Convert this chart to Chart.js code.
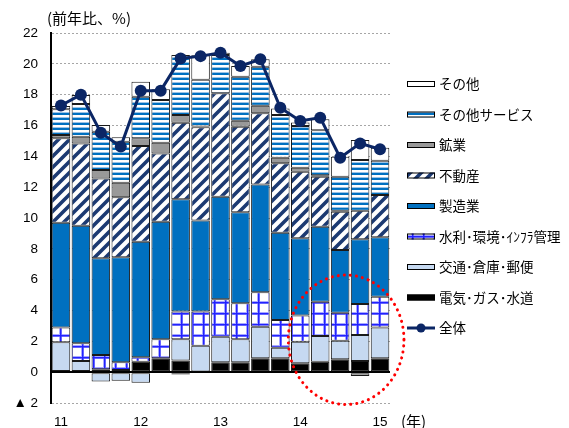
<!DOCTYPE html>
<html>
<head>
<meta charset="utf-8">
<script src="https://cdn.jsdelivr.net/npm/chart.js@4"></script>
<style>
  html, body { margin: 0; padding: 0; background: #fff; }
  #wrap { width: 569px; height: 428px; }
</style>
</head>
<body>
<div id="wrap"><canvas id="chart" width="569" height="428"></canvas></div>
<script>
// quarters 2011Q1 .. 2015Q1, only the year is labelled
const quarters = ['11', '', '', '', '12', '', '', '', '13', '', '', '', '14', '', '', '', '15'];

const elec      = [0.08, 0.08, 0.19, 0.14, 0.68, 0.9, 0.75, 0.05, 0.64, 0.64, 0.9, 0.9, 0.58, 0.68, 0.84, 0.73, 0.9];
const transport = [1.86, 0.65, -0.61, -0.55, -0.68, 0, 1.38, 1.67, 1.66, 1.49, 2.05, 0.69, 1.4, 1.67, 1.2, 1.68, 1.99];
const water     = [0.95, 1.14, 0.93, 0.5, 0.29, 1.23, 1.8, 2.21, 2.43, 2.34, 2.23, 1.8, 1.69, 2.22, 1.82, 2.01, 2.01];
const manuf     = [6.81, 7.63, 6.27, 6.81, 7.49, 7.63, 7.28, 5.9, 6.65, 5.9, 7.0, 5.66, 5.01, 4.87, 4.06, 4.2, 3.85];
const realty    = [5.47, 5.34, 5.18, 3.89, 6.21, 4.43, 4.97, 6.05, 6.71, 5.55, 4.61, 4.5, 4.32, 3.24, 2.49, 1.85, 2.74];
const mining    = [0.21, 0.43, 0.54, 0.95, 0.5, 0.69, 0.5, 0.05, 0, 0.39, 0.49, 0.36, 0.26, 0.1, 0.06, -0.25, 0];
const services  = [1.67, 2.13, 2.49, 2.66, 2.7, 2.77, 3.89, 3.03, 2.48, 2.85, 2.53, 2.77, 2.71, 2.92, 2.21, 3.29, 2.23];
const other     = [0.21, 0.58, 0.43, 0.28, 0.97, 0.7, -0.15, 1.6, 0.15, 0.7, 0.48, 0.42, 0.23, 0.7, 1.29, 1.3, 0.84];
const total     = [17.3, 18.0, 15.53, 14.63, 18.26, 18.26, 20.35, 20.5, 20.72, 19.86, 20.29, 17.15, 16.29, 16.51, 13.91, 14.84, 14.46];

const NAVY = '#0b2665';
const BLUE = '#0070c0';

function makePattern(w, h, paint) {
  const c = document.createElement('canvas');
  c.width = w; c.height = h;
  const g = c.getContext('2d');
  g.fillStyle = '#fff';
  g.fillRect(0, 0, w, h);
  paint(g);
  return document.getElementById('chart').getContext('2d').createPattern(c, 'repeat');
}

// horizontal blue stripes
const stripes = makePattern(8, 5, g => {
  g.fillStyle = '#9cc3e6'; g.fillRect(0, 2, 8, 1);
  g.fillStyle = BLUE; g.fillRect(0, 3, 8, 2);
});
// navy diagonal hatch
const hatch = makePattern(11, 11, g => {
  g.strokeStyle = '#1c3a72';
  g.lineWidth = 3.6;
  g.beginPath();
  g.moveTo(-1, 12); g.lineTo(12, -1);
  g.moveTo(-6, 6); g.lineTo(6, -6);
  g.moveTo(5, 17); g.lineTo(17, 5);
  g.stroke();
});
// blue grid
const blueGrid = makePattern(11, 11, g => {
  g.fillStyle = '#a8a8ff';
  g.fillRect(4, 0, 3, 11);
  g.fillRect(0, 4, 11, 3);
  g.fillStyle = '#2222ff';
  g.fillRect(5, 0, 1.5, 11);
  g.fillRect(0, 5, 11, 1.5);
});

function barSet(label, data, bg) {
  return {
    label, data,
    backgroundColor: bg,
    borderColor: '#1a1a1a',
    borderWidth: 1,
    borderSkipped: false,
    stack: 'parts',
    order: 1
  };
}

const extras = {
  id: 'extras',
  afterDraw(chart, args, opts) {
    const { ctx, scales: { x, y } } = chart;
    ctx.save();
    ctx.fillStyle = '#000';
    ctx.textBaseline = 'middle';
    ctx.font = '15px "Noto Sans CJK JP"';
    ctx.fillText(opts.unit, 47, 18);
    ctx.fillText(opts.xUnit, 401, 421);

    // dotted red highlight ellipse
    const h = opts.highlight;
    const cx = x.getPixelForValue(h.center);
    const rx = x.getPixelForValue(h.center + h.halfWidth) - cx;
    const cy = y.getPixelForValue(h.value);
    const ry = cy - y.getPixelForValue(h.value + h.halfHeight);
    ctx.strokeStyle = '#ff0000';
    ctx.lineWidth = 3;
    ctx.lineCap = 'round';
    ctx.setLineDash([0.1, 6]);
    ctx.beginPath();
    ctx.ellipse(cx, cy, rx, ry, 0, 0, Math.PI * 2);
    ctx.stroke();
    ctx.setLineDash([]);
    ctx.lineCap = 'butt';

    // legend
    const bars = chart.data.datasets.filter(d => d.type !== 'line').reverse();
    const lines = chart.data.datasets.filter(d => d.type === 'line');
    let ly = 84;
    ctx.font = '13.5px "Noto Sans CJK JP"';
    bars.forEach(ds => {
      ctx.fillStyle = ds.backgroundColor;
      ctx.fillRect(407, ly - 3, 28, 6);
      ctx.strokeStyle = '#000';
      ctx.lineWidth = 1;
      ctx.strokeRect(407.5, ly - 2.5, 27, 5);
      ctx.fillStyle = '#000';
      ctx.fillText(ds.label, 439, ly);
      ly += 30.5;
    });
    lines.forEach(ds => {
      ctx.strokeStyle = ds.borderColor;
      ctx.lineWidth = 3;
      ctx.beginPath();
      ctx.moveTo(407, ly); ctx.lineTo(435, ly);
      ctx.stroke();
      ctx.fillStyle = ds.borderColor;
      ctx.beginPath();
      ctx.arc(421, ly, 4.5, 0, Math.PI * 2);
      ctx.fill();
      ctx.fillStyle = '#000';
      ctx.fillText(ds.label, 439, ly);
      ly += 30.5;
    });
    ctx.restore();
  }
};

new Chart(document.getElementById('chart'), {
  type: 'bar',
  data: {
    labels: quarters,
    datasets: [
      barSet('電気･ガス･水道', elec, '#000000'),
      barSet('交通･倉庫･郵便', transport, '#c6d9f1'),
      barSet('水利･環境･ｲﾝﾌﾗ管理', water, blueGrid),
      barSet('製造業', manuf, BLUE),
      barSet('不動産', realty, hatch),
      barSet('鉱業', mining, '#999999'),
      barSet('その他サービス', services, stripes),
      barSet('その他', other, '#ffffff'),
      {
        type: 'line',
        label: '全体',
        data: total,
        borderColor: NAVY,
        backgroundColor: NAVY,
        borderWidth: 3,
        pointRadius: 6,
        pointBackgroundColor: NAVY,
        pointBorderWidth: 0,
        tension: 0,
        stack: 'total',
        order: 0
      }
    ]
  },
  options: {
    responsive: false,
    animation: false,
    layout: { padding: { left: 0, top: 33, right: 179, bottom: 0 } },
    datasets: { bar: { barPercentage: 0.93, categoryPercentage: 1 } },
    scales: {
      x: {
        stacked: true,
        offset: true,
        grid: { display: false, drawTicks: false },
        border: { display: false },
        ticks: {
          autoSkip: false, maxRotation: 0, padding: 11,
          color: '#000', font: { family: '"Liberation Sans", Arial, sans-serif', size: 13.5 }
        },
        afterFit(s) { s.height = 25; }
      },
      y: {
        stacked: true,
        min: -2, max: 22,
        grid: {
          drawTicks: false,
          color: c => c.tick.value === 0 ? '#000' : '#a6a6a6',
          lineWidth: c => c.tick.value === 0 ? 2 : 1
        },
        border: {
          display: true, color: '#000', width: 2,
          dash: c => c.tick && c.tick.value === 0 ? [] : [2, 2]
        },
        ticks: {
          stepSize: 2, padding: 13, color: '#000',
          font: { family: '"Liberation Sans", Arial, sans-serif', size: 13.5 },
          callback: v => v < 0 ? '▲ ' + Math.abs(v) : v
        },
        afterFit(s) { s.width = 51; }
      }
    },
    plugins: {
      legend: { display: false },
      tooltip: { enabled: false },
      extras: {
        unit: '(前年比、%)',
        xUnit: '(年)',
        highlight: { center: 14.3, halfWidth: 2.9, value: 2.1, halfHeight: 4.2 }
      }
    }
  },
  plugins: [extras]
});
</script>
</body>
</html>
